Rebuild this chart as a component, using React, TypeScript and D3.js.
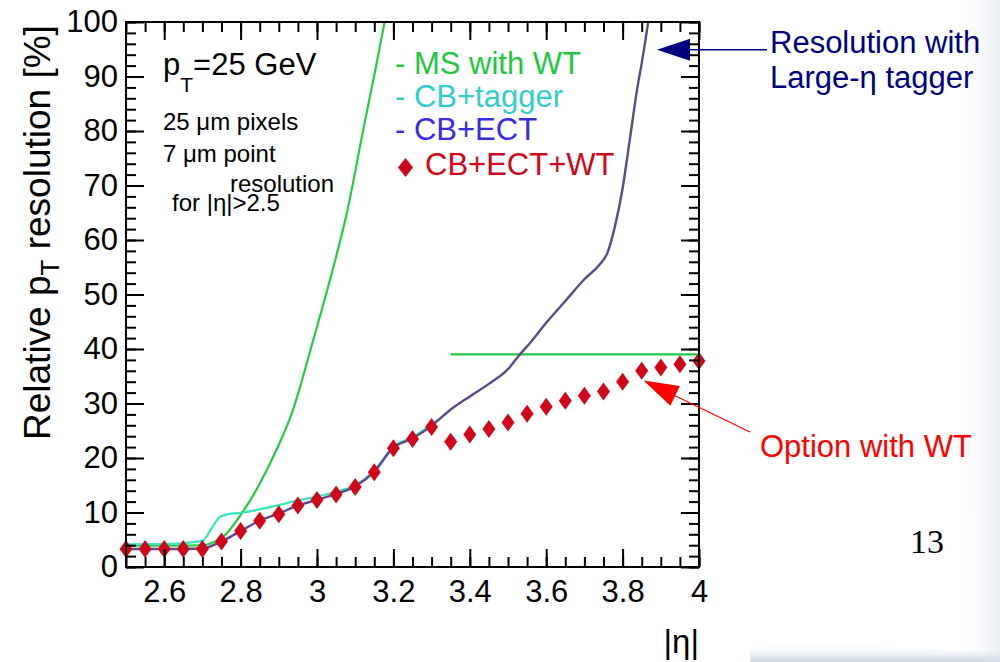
import React, { useEffect, useRef } from "react";
import * as d3 from "d3";

const W = 1000;
const H = 662;
const plot = { left: 126, right: 699, top: 22, bottom: 567 };

const etaDomain = [2.5, 4.0];
const resDomain = [0, 100];

const xMajorTicks = [2.6, 2.8, 3.0, 3.2, 3.4, 3.6, 3.8, 4.0];
const xTickLabels = ["2.6", "2.8", "3", "3.2", "3.4", "3.6", "3.8", "4"];
const yMajorTicks = [0, 10, 20, 30, 40, 50, 60, 70, 80, 90, 100];
const yTickLabels = ["0", "10", "20", "30", "40", "50", "60", "70", "80", "90", "100"];

// CB+ECT+WT (red diamonds)
const wtEta = [2.5, 2.55, 2.6, 2.65, 2.7, 2.75, 2.8, 2.85, 2.9, 2.95, 3.0, 3.05, 3.1, 3.15, 3.2, 3.25, 3.3,
  3.35, 3.4, 3.45, 3.5, 3.55, 3.6, 3.65, 3.7, 3.75, 3.8, 3.85, 3.9, 3.95, 4.0];
const wtRes = [3.3, 3.3, 3.3, 3.3, 3.3, 4.7, 6.6, 8.5, 9.7, 11.3, 12.3, 13.3, 14.7, 17.4, 21.8, 23.5, 25.7,
  23.0, 24.3, 25.3, 26.5, 28.1, 29.4, 30.5, 31.4, 32.2, 34.0, 36.0, 36.6, 37.2, 37.8];

// CB+ECT (purple line)
const ectEta = [2.5, 2.6, 2.7, 2.75, 2.8, 2.85, 2.9, 2.95, 3.0, 3.05, 3.1, 3.15, 3.2, 3.25, 3.3, 3.35, 3.4,
  3.45, 3.5, 3.53, 3.56, 3.6, 3.65, 3.7, 3.74, 3.76, 3.78, 3.8, 3.82, 3.84, 3.85, 3.867, 3.875];
const ectRes = [3.3, 3.3, 3.4, 4.7, 6.6, 8.5, 9.8, 11.3, 12.3, 13.4, 14.8, 17.5, 21.9, 23.6, 25.9, 28.9, 31.3,
  33.6, 36.3, 38.9, 41.3, 44.8, 48.8, 52.8, 55.5, 57.6, 62.5, 69.5, 79.0, 88.5, 92.4, 100.0, 104.0];

// CB+tagger (cyan line)
const taggerEta = [2.5, 2.6, 2.7, 2.725, 2.746, 2.768, 2.807, 2.851, 2.903, 2.955, 3.0, 3.05, 3.1, 3.15, 3.2, 3.25, 3.32];
const taggerRes = [4.15, 4.2, 4.8, 7.2, 9.2, 9.7, 10.0, 10.6, 11.4, 12.3, 12.9, 13.8, 15.0, 17.7, 22.1, 23.8, 27.2];

// MS with WT (green line)
const msEta = [2.5, 2.6, 2.7, 2.72, 2.755, 2.803, 2.851, 2.894, 2.934, 2.99, 3.034, 3.078, 3.121, 3.156, 3.178, 3.19];
const msRes = [3.9, 3.9, 3.95, 4.3, 5.6, 9.85, 15.4, 21.5, 28.2, 41.6, 52.7, 64.9, 80.2, 92.4, 100.4, 105];

// MS with WT plateau segment
const msFlatEta = [3.35, 4.0];
const msFlatRes = [39.0, 39.0];

// annotation arrow tips (data coordinates)
const blueArrowTip = [3.89, 94.9];
const redArrowTip = [3.855, 34.2];

const FONT = "'Liberation Sans', Arial, Helvetica, sans-serif";

const colors = {
  ms: "#22cc44",
  msText: "#1fc83f",
  tagger: "#33e8b8",
  taggerText: "#33cccc",
  ect: "#5e4a8a",
  ectText: "#3a2ae6",
  wt: "#d2061a",
  navy: "#000080",
  red: "#ff0000",
};

function diamondPath(cx: number, cy: number, w: number, h: number) {
  return `M${cx},${cy - h / 2}L${cx + w / 2},${cy}L${cx},${cy + h / 2}L${cx - w / 2},${cy}Z`;
}

export default function App() {
  const axesRef = useRef<SVGGElement>(null);

  const x = d3.scaleLinear().domain(etaDomain).range([plot.left, plot.right]);
  const y = d3.scaleLinear().domain(resDomain).range([plot.bottom, plot.top]);

  const line = d3
    .line<[number, number]>()
    .x((d) => x(d[0]))
    .y((d) => y(d[1]))
    .curve(d3.curveMonotoneX);

  const zip = (a: number[], b: number[]) => a.map((v, i) => [v, b[i]] as [number, number]);

  useEffect(() => {
    const g = d3.select(axesRef.current);
    g.selectAll("*").remove();
    const xMinor = d3.range(2.5, 4.0001, 0.05);
    const yMinor = d3.range(0, 100.001, 2);

    const bottom = g.append("g").attr("transform", `translate(0,${plot.bottom})`);
    bottom.append("g").call(d3.axisBottom(x).tickValues(xMinor).tickSize(-10).tickSizeOuter(0).tickFormat(() => ""));
    bottom.append("g").call(
      d3.axisBottom(x).tickValues(xMajorTicks).tickSize(-18).tickSizeOuter(0).tickPadding(13)
        .tickFormat((_d, i) => xTickLabels[i])
    );

    const top = g.append("g").attr("transform", `translate(0,${plot.top})`);
    top.append("g").call(d3.axisTop(x).tickValues(xMinor).tickSize(-10).tickSizeOuter(0).tickFormat(() => ""));
    top.append("g").call(d3.axisTop(x).tickValues(xMajorTicks).tickSize(-18).tickSizeOuter(0).tickFormat(() => ""));

    const left = g.append("g").attr("transform", `translate(${plot.left},0)`);
    left.append("g").call(d3.axisLeft(y).tickValues(yMinor).tickSize(-10).tickSizeOuter(0).tickFormat(() => ""));
    left.append("g").call(
      d3.axisLeft(y).tickValues(yMajorTicks).tickSize(-18).tickSizeOuter(0).tickPadding(8)
        .tickFormat((_d, i) => yTickLabels[i])
    );

    const right = g.append("g").attr("transform", `translate(${plot.right},0)`);
    right.append("g").call(d3.axisRight(y).tickValues(yMinor).tickSize(-10).tickSizeOuter(0).tickFormat(() => ""));
    right.append("g").call(d3.axisRight(y).tickValues(yMajorTicks).tickSize(-18).tickSizeOuter(0).tickFormat(() => ""));

    g.selectAll(".domain").remove();
    g.selectAll("line").attr("stroke", "#000").attr("stroke-width", 2);
    g.selectAll("text")
      .attr("font-family", FONT)
      .attr("font-size", 31)
      .attr("fill", "#000");
  }, []);

  const tip1 = [x(blueArrowTip[0]), y(blueArrowTip[1])];
  const tip2 = [x(redArrowTip[0]), y(redArrowTip[1])];
  // red arrow geometry
  const redEnd = [750, 432];
  const dx = redEnd[0] - tip2[0];
  const dy = redEnd[1] - tip2[1];
  const len = Math.hypot(dx, dy);
  const ux = dx / len, uy = dy / len;
  const hl = 35, hw = 11;
  const rb = [tip2[0] + ux * hl, tip2[1] + uy * hl];
  const redHead = `M${tip2[0]},${tip2[1]}L${rb[0] - uy * hw},${rb[1] + ux * hw}L${rb[0] + uy * hw},${rb[1] - ux * hw}Z`;

  return (
    <svg
      width={W}
      height={H}
      viewBox={`0 0 ${W} ${H}`}
      style={{ position: "absolute", left: 0, top: 0, background: "#fff" }}
    >
      <defs>
        <clipPath id="plotClip">
          <rect x={plot.left} y={plot.top} width={plot.right - plot.left} height={plot.bottom - plot.top} />
        </clipPath>
        <linearGradient id="bgGrad" x1="0" y1="0" x2="0" y2="1">
          <stop offset="0" stopColor="#ffffff" stopOpacity={0} />
          <stop offset="1" stopColor="#cfd8e4" stopOpacity={1} />
        </linearGradient>
        <linearGradient id="edgeGrad" x1="0" y1="0" x2="1" y2="0">
          <stop offset="0" stopColor="#ffffff" stopOpacity={0} />
          <stop offset="1" stopColor="#e9edf2" stopOpacity={1} />
        </linearGradient>
      </defs>
      <rect x={0} y={0} width={W} height={H} fill="#fff" />
      <rect x={955} y={0} width={45} height={H} fill="url(#edgeGrad)" />
      <path d="M750,662L750,648Q820,636 900,648L1000,652L1000,662Z" fill="url(#bgGrad)" />

      {/* curves */}
      <g clipPath="url(#plotClip)" fill="none">
        <path d={line(zip(msEta, msRes)) || ""} stroke={colors.ms} strokeWidth={2.2} />
        <path d={line(zip(msFlatEta, msFlatRes)) || ""} stroke={colors.ms} strokeWidth={2.2} />
        <path d={line(zip(taggerEta, taggerRes)) || ""} stroke={colors.tagger} strokeWidth={2.2} />
        <path d={line(zip(ectEta, ectRes)) || ""} stroke={colors.ect} strokeWidth={2.4} />
      </g>

      {/* markers */}
      <g fill={colors.wt}>
        {wtEta.map((e, i) => (
          <path key={i} d={diamondPath(x(e), y(wtRes[i]), 13, 18)} />
        ))}
      </g>

      {/* frame and axes */}
      <rect
        x={plot.left}
        y={plot.top}
        width={plot.right - plot.left}
        height={plot.bottom - plot.top}
        fill="none"
        stroke="#000"
        strokeWidth={2}
      />
      <g ref={axesRef} />

      {/* axis titles */}
      <text
        transform={`translate(50,440) rotate(-90)`}
        fontFamily={FONT}
        fontSize={37}
        fill="#000"
      >
        Relative p
        <tspan fontSize={26} dy={9}>T</tspan>
        <tspan dy={-9}> resolution [%]</tspan>
      </text>
      <text x={plot.right} y={653} textAnchor="end" fontFamily={FONT} fontSize={33} fill="#000">
        |η|
      </text>

      {/* in-plot labels */}
      <g fontFamily={FONT} fill="#000">
        <text x={163} y={75} fontSize={31}>
          p<tspan fontSize={21} dy={17}>T</tspan>
          <tspan dy={-17}>=25 GeV</tspan>
        </text>
        <text x={163} y={130} fontSize={24}>25 μm pixels</text>
        <text x={163} y={162} fontSize={24}>7 μm point</text>
        <text x={230} y={192} fontSize={24}>resolution</text>
        <text x={172} y={211} fontSize={24}>for |η|&gt;2.5</text>
      </g>

      {/* legend */}
      <g fontFamily={FONT} fontSize={31}>
        <text x={395} y={74} fill={colors.msText}>- MS with WT</text>
        <text x={395} y={107} fill={colors.taggerText}>- CB+tagger</text>
        <text x={395} y={140} fill={colors.ectText}>- CB+ECT</text>
        <path d={diamondPath(405.5, 167.5, 15, 19)} fill={colors.wt} />
        <text x={425} y={175} fill={colors.wt}>CB+ECT+WT</text>
      </g>

      {/* blue annotation */}
      <line x1={tip1[0] + 30} y1={tip1[1]} x2={767} y2={tip1[1]} stroke={colors.navy} strokeWidth={1.5} />
      <path
        d={`M${tip1[0]},${tip1[1]}L${tip1[0] + 33},${tip1[1] - 11}L${tip1[0] + 33},${tip1[1] + 11}Z`}
        fill={colors.navy}
      />
      <g fontFamily={FONT} fontSize={31} fill={colors.navy}>
        <text x={770} y={53}>Resolution with</text>
        <text x={770} y={88}>Large-η tagger</text>
      </g>

      {/* red annotation */}
      <line x1={rb[0]} y1={rb[1]} x2={redEnd[0]} y2={redEnd[1]} stroke={colors.red} strokeWidth={1.2} />
      <path d={redHead} fill={colors.red} />
      <text x={760} y={457} fontFamily={FONT} fontSize={31} fill={colors.red}>
        Option with WT
      </text>

      {/* page number */}
      <text x={910} y={553} fontFamily="'Liberation Serif', 'Times New Roman', serif" fontSize={34} fill="#000">
        13
      </text>
    </svg>
  );
}
